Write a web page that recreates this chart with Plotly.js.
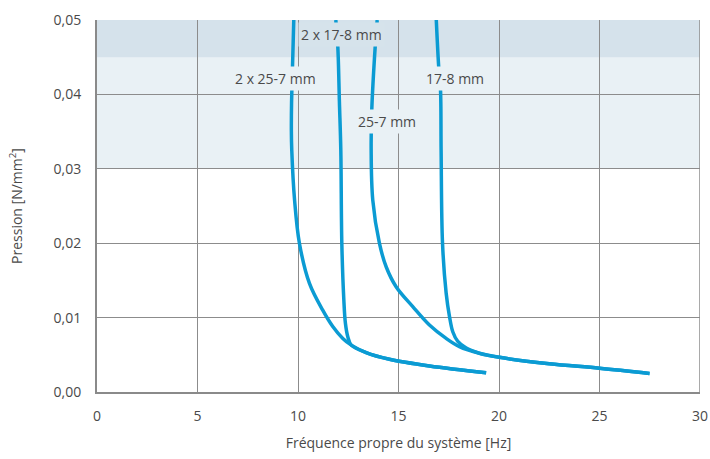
<!DOCTYPE html>
<html><head><meta charset="utf-8">
<script src="https://cdn.plot.ly/plotly-3.0.1.min.js"></script>
<style>html,body{margin:0;padding:0;background:#fff}#chart{width:710px;height:459px}</style>
</head><body><div id="chart"></div>
<script>
// Curve "2 x 25-7 mm"
const c1x = [9.79, 9.74, 9.68, 9.67, 9.69, 9.83, 10.07, 10.57, 11.23, 11.73, 12.23, 12.65, 13.39, 14.55, 16.54, 19.36];
const c1y = [0.050, 0.045, 0.039, 0.035, 0.0325, 0.0258, 0.020, 0.0146, 0.011, 0.0088, 0.0072, 0.0063, 0.0053, 0.0044, 0.0035, 0.0026];
// Curve "2 x 17-8 mm"
const c2x = [11.88, 11.98, 12.06, 12.13, 12.18, 12.28, 12.36, 12.48, 12.65, 13.39, 14.55, 16.54, 19.36];
const c2y = [0.050, 0.0464, 0.039, 0.0325, 0.020, 0.0124, 0.0092, 0.0074, 0.0063, 0.0053, 0.0044, 0.0035, 0.0026];
// Curve "25-7 mm"
const c3x = [13.94, 13.84, 13.67, 13.64, 13.72, 14.05, 14.39, 14.88, 15.71, 16.54, 17.37, 18.03, 19.03, 20.02, 22.5, 25.0, 27.49];
const c3y = [0.050, 0.0464, 0.0379, 0.0325, 0.0258, 0.020, 0.0168, 0.01415, 0.01147, 0.009, 0.0072, 0.0061, 0.0052, 0.00466, 0.0038, 0.0032, 0.0025];
// Curve "17-8 mm"
const c4x = [16.88, 17.0, 17.09, 17.12, 17.19, 17.37, 17.54, 17.7, 17.95, 18.37, 19.03, 20.02, 22.5, 25.0, 27.49];
const c4y = [0.050, 0.0437, 0.0406, 0.0325, 0.020, 0.0133, 0.0101, 0.0081, 0.0068, 0.0059, 0.0052, 0.00466, 0.0038, 0.0032, 0.0025];

const labels = ["2 x 25-7 mm", "2 x 17-8 mm", "25-7 mm", "17-8 mm"];
const labelX = [8.88, 12.17, 14.45, 17.82];
const labelY = [0.0422, 0.0481, 0.0363, 0.0422];

const xTicks = [0, 5, 10, 15, 20, 25, 30];
const yTicks = [0, 0.01, 0.02, 0.03, 0.04, 0.05];

const blue = '#0b9bd3';
const curves = [[c1x, c1y], [c2x, c2y], [c3x, c3y], [c4x, c4y]];
const traces = curves.map(c => ({
  x: c[0], y: c[1], type: 'scatter', mode: 'lines',
  line: {color: blue, width: 3.5, shape: 'spline', smoothing: 1},
  hoverinfo: 'skip', showlegend: false
}));

const font = {family: '"Open Sans", sans-serif', size: 14, color: '#4a4a4a'};
const bandLight = 'rgba(216,230,237,0.56)';
const bandDark = 'rgba(187,208,222,0.62)';

const annotations = labels.map((t, i) => ({
  x: labelX[i], y: labelY[i], xref: 'x', yref: 'y', text: t, showarrow: false,
  font: {family: '"Open Sans", sans-serif', size: 14, color: '#4a4a4a'},
  bgcolor: i === 1 ? '#d6e3eb' : '#e9f1f5', borderpad: 2
}));

const layout = {
  width: 710, height: 459,
  margin: {l: 97, r: 10, t: 20, b: 67},
  paper_bgcolor: '#ffffff', plot_bgcolor: '#ffffff',
  separators: ', ',
  font: font,
  showlegend: false,
  xaxis: {
    range: [0, 30], tickvals: xTicks, ticktext: xTicks.map(String),
    showgrid: true, gridcolor: '#8c8c8c', gridwidth: 1,
    showline: true, linecolor: '#8a8a8a', linewidth: 2,
    zeroline: false, ticks: 'outside', ticklen: 10, tickcolor: 'rgba(0,0,0,0)',
    title: {text: 'Fréquence propre du système [Hz]', font: font, standoff: 14},
    fixedrange: true
  },
  yaxis: {
    range: [0, 0.05], tickvals: yTicks, tickformat: '.2f',
    showgrid: true, gridcolor: '#8c8c8c', gridwidth: 1,
    showline: true, linecolor: '#8a8a8a', linewidth: 2,
    zeroline: false, ticks: 'outside', ticklen: 11, tickcolor: 'rgba(0,0,0,0)',
    title: {text: 'Pression [N/mm<sup>2</sup>]', font: font, standoff: 28},
    fixedrange: true
  },
  shapes: [
    {type: 'line', xref: 'x', yref: 'y', x0: 30, x1: 30, y0: 0, y1: 0.05, line: {color: '#8c8c8c', width: 1.5}, layer: 'below'},
    {type: 'rect', xref: 'paper', yref: 'y', x0: 0, x1: 1, y0: 0.03, y1: 0.045, fillcolor: bandLight, line: {width: 0}, layer: 'between'},
    {type: 'rect', xref: 'paper', yref: 'y', x0: 0, x1: 1, y0: 0.045, y1: 0.05, fillcolor: bandDark, line: {width: 0}, layer: 'between'}
  ],
  annotations: annotations
};

Plotly.newPlot('chart', traces, layout, {staticPlot: true, displayModeBar: false});
</script></body></html>
